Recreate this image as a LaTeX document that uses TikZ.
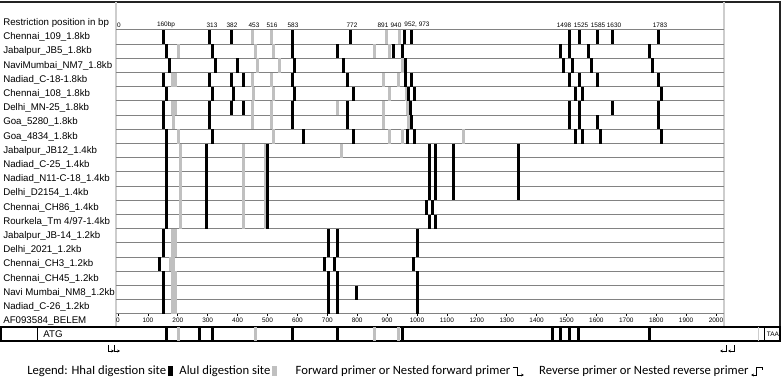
\documentclass[tikz,border=0pt]{standalone}
\usepackage{fontspec}
\setmainfont{Liberation Sans}
\newfontfamily\legendfont{Carlito}
\usetikzlibrary{arrows.meta,positioning}
\definecolor{aluink}{RGB}{192,192,192}
\definecolor{rulegray}{RGB}{130,130,130}
\definecolor{dividergray}{RGB}{205,205,205}
\definecolor{frameink}{RGB}{35,35,35}
\tikzset{
  hha/.style={draw=black,line width=0.75mm},
  alu/.style={draw=aluink,line width=0.75mm},
  rowline/.style={draw=rulegray,line width=0.25mm},
  divider/.style={draw=dividergray,line width=0.4mm},
  frame/.style={draw=frameink,line width=0.5mm},
  strain/.style={anchor=west,inner sep=0pt,font=\fontsize{6.9}{8}\selectfont},
  bpnum/.style={inner sep=0pt,font=\fontsize{4.6}{5}\selectfont},
  legend/.style={anchor=west,inner sep=0pt,font=\legendfont\fontsize{9}{10}\selectfont},
  sitekey/.style={fill=#1,inner sep=0pt,minimum width=1.25mm,minimum height=2.6mm},
  sitekey/.default=black,
  primer/.style={draw=black,line width=0.2mm},
}

\begin{document}
\begin{tikzpicture}[x=0.25mm,y=-0.25mm]
    \useasboundingbox (0,0) rectangle (784,381);
    \draw[frame] (0,2) -- (780,2) -- (780,341);
    \draw[divider] (116,2) -- (116,327);
    \draw[divider] (724,2) -- (724,327);
    \foreach \k in {0,...,20}
      \draw[rowline] (116,{30+14.2*\k}) -- (724,{30+14.2*\k});
    \node[strain] (head) at (3,23) {Restriction position in bp};
    \foreach \x/\t in {119/0,166/160bp,212/313,232/382,254/453,272/516,293/583,352/772,383/891,396/940,417/{952, 973},564/1498,581/1525,598/1585,614/1630,660/1783}
      \node[bpnum] at (\x,25) {\t};
    % strains: name / HhaI sites / AluI sites (position/width)
    \foreach \name/\hha/\alu [count=\i] in {
      {Chennai\_109\_1.8kb}/{163,209,231,292,350,404,411,569,579,597,612,658}/{252/3,271/3,386/3,399/3},
      {Jabalpur\_JB5\_1.8kb}/{166,212,292,337,393,402,560,569,588,649}/{178/3,255/3,273/3,374/3,389/3},
      {NaviMumbai\_NM7\_1.8kb}/{169,215,237,294,343,405,563,572,591,652}/{257/3,279/3,402/3},
      {Nadiad\_C-18-1.8kb}/{163,209,231,243,292,347,405,411,569,579,597,658}/{174/6,252/3,271/3,383/3,398/3},
      {Chennai\_108\_1.8kb}/{166,212,233,294,353,408,414,575,582,661}/{253/3,273/3,389/3,406/3},
      {Delhi\_MN-25\_1.8kb}/{163,209,231,243,292,347,410,569,579,612,658}/{174/6,252/3,271/3,337/3,383/3,407/3},
      {Goa\_5280\_1.8kb}/{163,209,292,347,411,569,579,597,658}/{173/3,252/3,271/3,383/3,408/3},
      {Goa\_4834\_1.8kb}/{166,212,303,353,407,414,575,582,600,661}/{178/3,273/3,389/3,402/3,463/3},
      {Jabalpur\_JB12\_1.4kb}/{166,206,267,429,435,453,518}/{180/3,243/3,265/3,341/3},
      {Nadiad\_C-25\_1.4kb}/{166,206,267,429,435,453,518}/{180/3,243/3,265/3},
      {Nadiad\_N11-C-18\_1.4kb}/{166,206,267,429,435,453,518}/{180/3,243/3,265/3},
      {Delhi\_D2154\_1.4kb}/{166,206,267,429,435,453,518}/{180/3,243/3,265/3},
      {Chennai\_CH86\_1.4kb}/{166,206,267,426,432}/{180/3,243/3,265/3},
      {Rourkela\_Tm 4/97-1.4kb}/{166,206,267,429,435}/{180/3,243/3,265/3},
      {Jabalpur\_JB-14\_1.2kb}/{163,328,337,417}/{174/6},
      {Delhi\_2021\_1.2kb}/{163,328,337,417}/{174/6},
      {Chennai\_CH3\_1.2kb}/{159,324,334,413}/{172/6},
      {Chennai\_CH45\_1.2kb}/{163,328,337,417}/{174/6},
      {Navi Mumbai\_NM8\_1.2kb}/{163,328,337,356,417}/{174/6},
      {Nadiad\_C-26\_1.2kb}/{163,328,337,417}/{174/6}}{
      \pgfmathsetmacro{\ry}{30+14.2*(\i-1)}
      \node[strain] (s\i) at (3,\ry+7.1) {\name};
      \foreach \x/\w in \alu \draw[alu,line width=\w*0.25mm] (\x,\ry) -- (\x,\ry+14.2);
      \foreach \x in \hha \draw[hha] (\x,\ry) -- (\x,\ry+14.2);
    }
    \node[strain] (ref) at (3,321) {AF093584\_BELEM};
    \foreach \v in {0,100,...,2000}{
      \draw[line width=0.2mm] ({118+0.299*\v},314) -- ({118+0.299*\v},316.5);
      \node[bpnum] at ({118+0.299*\v},320.5) {\v};
    }
    % gene bar
    \draw[line width=0.3mm] (1,327) rectangle (780,341);
    \draw[line width=0.6mm] (1,341) -- (780,341);
    \draw[line width=0.25mm] (37,327) -- (37,341);
    \node[strain,anchor=center] (atg) at (53,334) {ATG};
    \foreach \x in {178,255,374,398} \draw[alu] (\x,327) -- (\x,341);
    \foreach \x in {166,199,212,292,337,402,552,560,569,578,649} \draw[hha] (\x,327) -- (\x,341);
    \draw[divider,line width=0.25mm] (758,327) -- (758,341);
    \draw[line width=0.25mm] (764,327) -- (764,341);
    \node[bpnum] (taa) at (773,334) {TAA};
    \foreach \x in {108,114}
      \draw[primer,-{Stealth[length=0.7mm,width=0.7mm]}] (\x,345) -- (\x,351) -- (\x+6,351);
    \foreach \x in {720,728}
      \draw[primer,{Stealth[length=0.7mm,width=0.7mm]}-] (\x,351) -- (\x+6,351) -- (\x+6,345);
    % legend
    \node[legend] (lgHha) at (27,371) {Legend: HhaI digestion site};
    \node[sitekey, right=0.3mm of lgHha] (keyHha) {};
    \node[legend, right=1.5mm of keyHha] (lgAlu) {AluI digestion site};
    \node[sitekey=aluink, right=0.3mm of lgAlu] (keyAlu) {};
    \node[legend, right=4.5mm of keyAlu] (lgFwd) {Forward primer or Nested forward primer};
    \coordinate[right=0.6mm of lgFwd] (keyFwd);
    \draw[primer,-{Stealth[length=0.7mm,width=0.7mm]}] (keyFwd) ++(0,-4) -- ++(5,0) -- ++(0,8) -- ++(6,0);
    \node[legend, right=6.5mm of keyFwd] (lgRev) {Reverse primer or Nested reverse primer};
    \coordinate[right=0.6mm of lgRev] (keyRev);
    \draw[primer,{Stealth[length=0.7mm,width=0.7mm]}-] (keyRev) ++(0,4) -- ++(5,0) -- ++(0,-8) -- ++(6,0) -- ++(0,3);
\end{tikzpicture}
\end{document}
